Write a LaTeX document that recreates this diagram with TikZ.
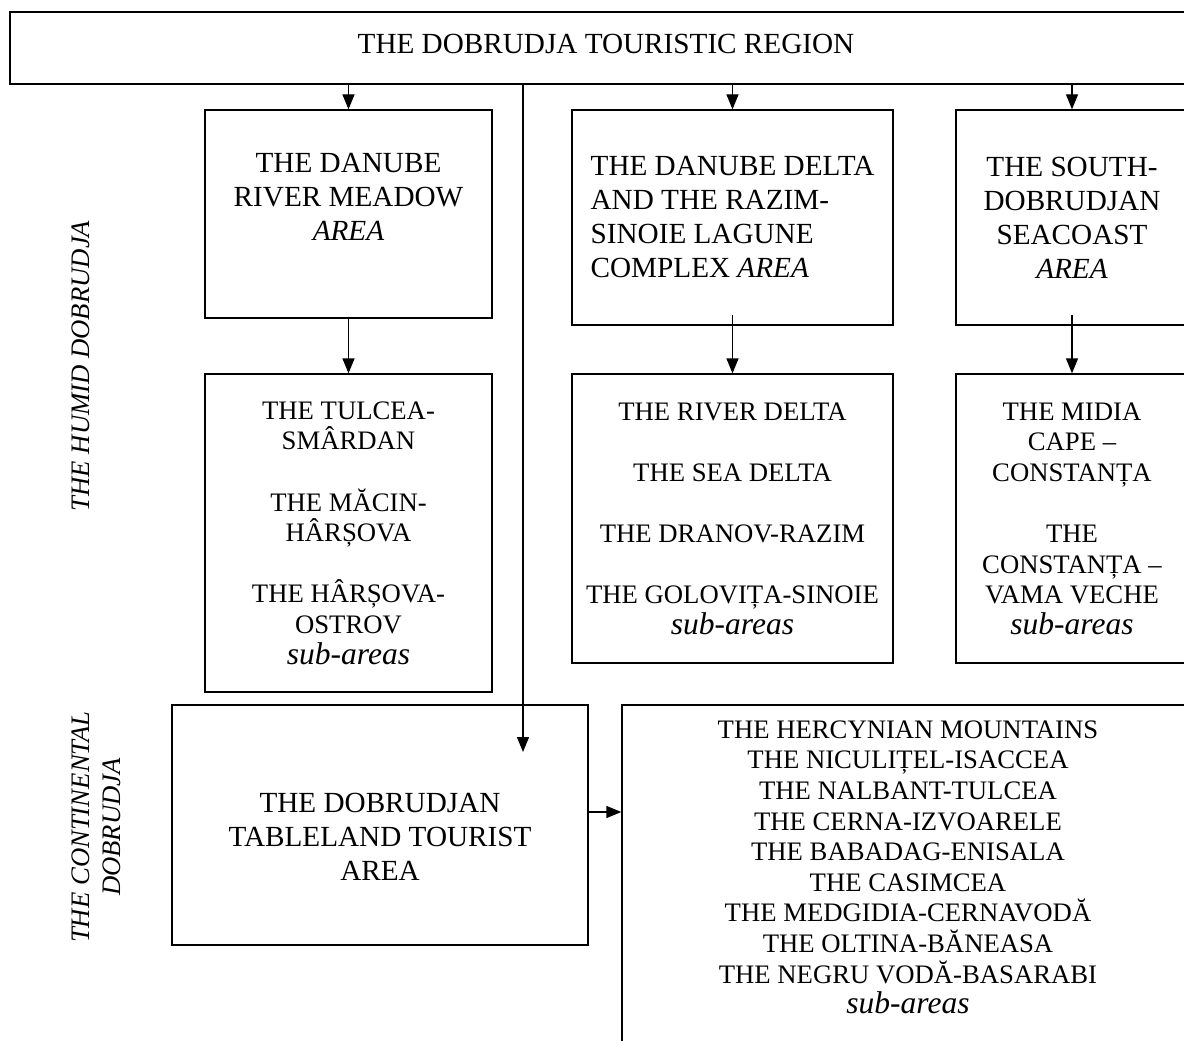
\documentclass[tikz,border=0pt]{standalone}
\usepackage{fontspec}
\setmainfont{Liberation Serif}
\usetikzlibrary{arrows.meta,positioning}
\newcommand{\bigsz}{\fontsize{29.2pt}{34pt}\selectfont}
\newcommand{\subsz}{\fontsize{26.7pt}{30.6pt}\selectfont}
\newcommand{\subit}{\fontsize{31.5pt}{31pt}\selectfont\itshape}

\begin{document}
\begin{tikzpicture}[x=1pt,y=-1pt,line width=1.3pt,
  feed/.style={-{Triangle[length=15pt 0 0,width=12pt 0 0]}},
  box/.style={draw,inner sep=0pt,align=center,font=\bigsz},
  subbox/.style={draw,inner sep=0pt,align=center,font=\subsz},
  side/.style={rotate=90,align=center,font=\subsz\itshape}]
\clip (0,0) rectangle (1184,1041);
\node[box,minimum width=1192pt,minimum height=72pt] (region) at (606,48) {THE DOBRUDJA TOURISTIC REGION\rule[-9pt]{0pt}{0pt}};
% areas
\node[box,minimum width=287pt,minimum height=208pt] (meadow) at (348.5,214) {THE DANUBE\\RIVER MEADOW\\\textit{AREA}\\\mbox{}};
\node[box,align=left,minimum width=321pt,minimum height=215pt] (delta) at (732.5,217.5) {THE DANUBE DELTA\\AND THE RAZIM-\\SINOIE LAGUNE\\COMPLEX \textit{AREA}};
\node[box,minimum width=232pt,minimum height=215pt] (seacoast) at (1072,217.5) {THE SOUTH-\\DOBRUDJAN\\SEACOAST\\\textit{AREA}};
% sub-areas
\node[subbox,minimum width=287pt,minimum height=318pt] (meadowsub) at (348.5,533) {THE TULCEA-\\SMÂRDAN\\[30.6pt]THE MĂCIN-\\HÂRȘOVA\\[30.6pt]THE HÂRȘOVA-\\OSTROV\\{\subit sub-areas}};
\node[subbox,minimum width=321pt,minimum height=289pt] (deltasub) at (732.5,518.5) {THE RIVER DELTA\\[30.6pt]THE SEA DELTA\\[30.6pt]THE DRANOV-RAZIM\\[30.6pt]THE GOLOVIȚA-SINOIE\\{\subit sub-areas}};
\node[subbox,minimum width=232pt,minimum height=289pt] (seacoastsub) at (1072,518.5) {THE MIDIA\\CAPE –\\CONSTANȚA\\[30.6pt]THE\\CONSTANȚA –\\VAMA VECHE\\{\subit sub-areas}};
% continental part
\node[box,minimum width=416pt,minimum height=240pt] (tableland) at (380,825) {\rule{0pt}{42pt}THE DOBRUDJAN\\TABLELAND TOURIST\\AREA};
\node[subbox,minimum width=572pt,minimum height=355pt] (hercynian) at (908,882.5) {THE HERCYNIAN MOUNTAINS\\THE NICULIȚEL-ISACCEA\\THE NALBANT-TULCEA\\THE CERNA-IZVOARELE\\THE BABADAG-ENISALA\\THE CASIMCEA\\THE MEDGIDIA-CERNAVODĂ\\THE OLTINA-BĂNEASA\\THE NEGRU VODĂ-BASARABI\\{\subit sub-areas}\\\mbox{}};
\node[side] (humid) at (81,366) {THE HUMID DOBRUDJA};
\node[side] (continental) at (96,827) {THE CONTINENTAL\\DOBRUDJA};
% connectors
\coordinate (tabin) at (523,752);
\draw[feed] (region.south -| meadow.north) -- (meadow.north);
\draw[feed] (region.south -| delta.north) -- (delta.north);
\draw[feed] (region.south -| seacoast.north) -- (seacoast.north);
\draw[feed] (region.south -| tabin) -- (tabin);
\draw[feed] (meadow.south) -- (meadowsub.north);
\draw[feed] ([yshift=11pt]delta.south) -- (deltasub.north);
\draw[feed] ([yshift=11pt]seacoast.south) -- (seacoastsub.north);
\draw[feed] ([yshift=13pt]tableland.east) -- ([yshift=13pt]tableland.east -| hercynian.west);
\end{tikzpicture}
\end{document}
